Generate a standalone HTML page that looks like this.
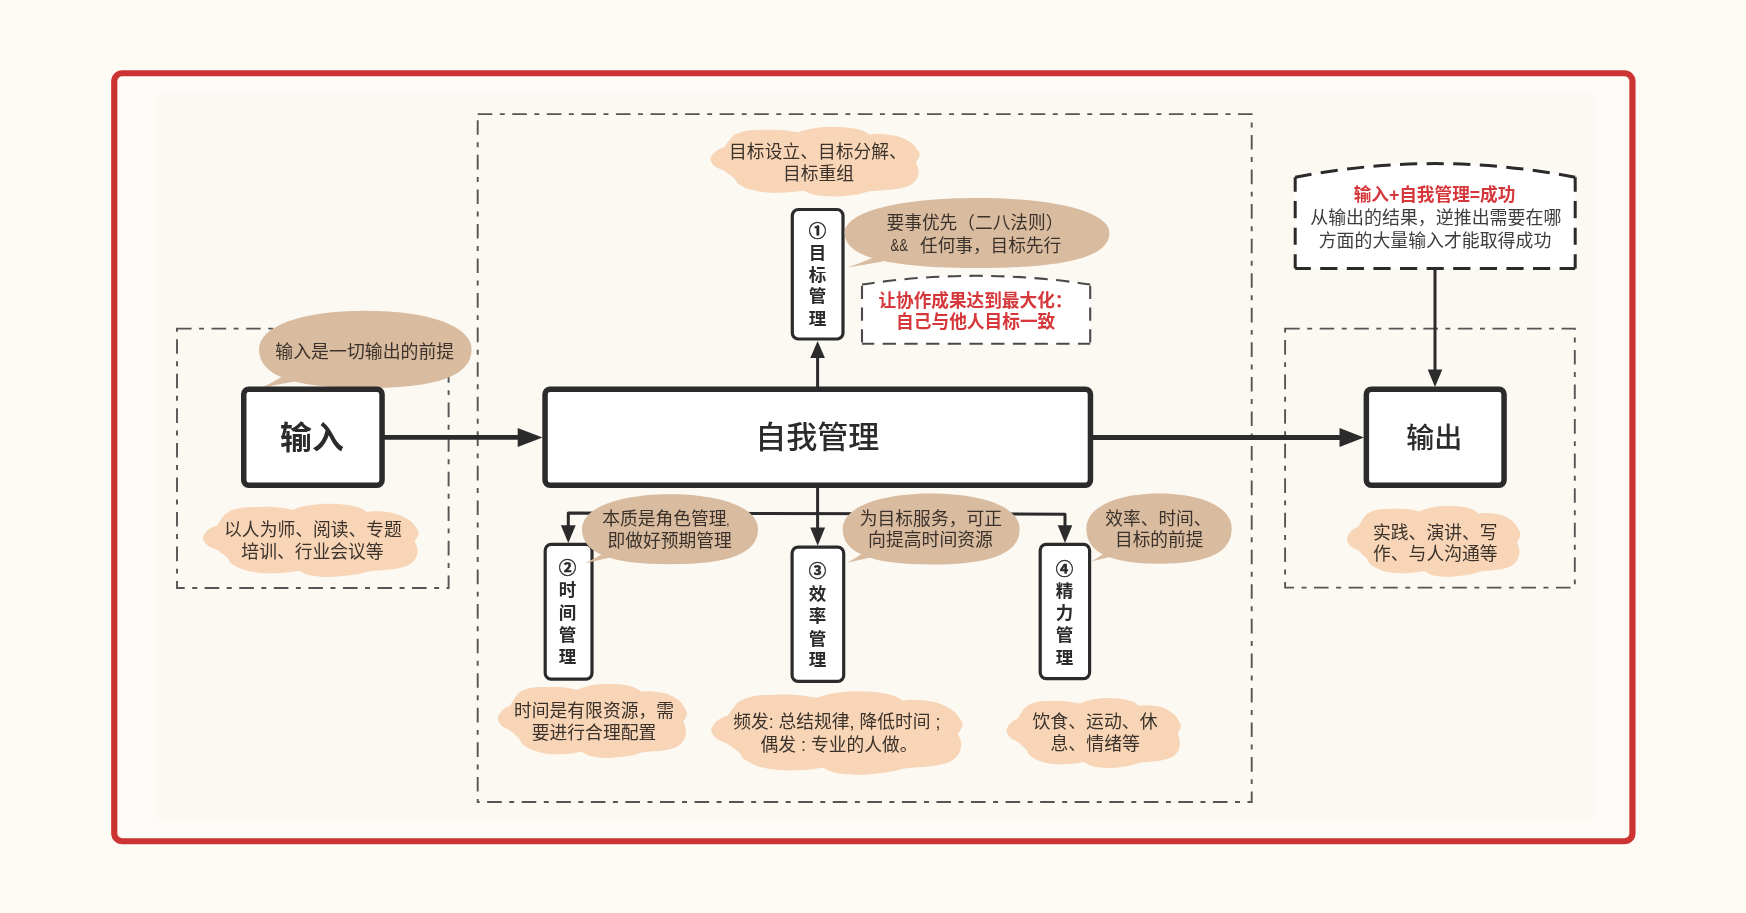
<!DOCTYPE html>
<html lang="zh-CN">
<head>
<meta charset="utf-8">
<title>自我管理</title>
<style>
html,body{margin:0;padding:0;background:#fefbf5;}
body{width:1746px;height:913px;overflow:hidden;}
svg{display:block;font-family:"Liberation Sans", "Noto Sans CJK SC", sans-serif;will-change:transform;filter:blur(0.45px);}
</style>
</head>
<body>
<svg width="1746" height="913" viewBox="0 0 1746 913">
<rect x="0" y="0" width="1746" height="913" fill="#fefbf5"/>
<rect x="120" y="79" width="1507" height="757" fill="#fefcf9"/>
<defs><filter id="soft" x="-2%" y="-2%" width="104%" height="104%"><feGaussianBlur stdDeviation="2.5"/></filter></defs>
<rect x="154" y="93" width="1441" height="728" fill="#fcf9f3" filter="url(#soft)"/>
<rect x="114.25" y="73.25" width="1518.2" height="768" rx="8" ry="8" fill="none" stroke="#cc3333" stroke-width="6.2"/>
<rect x="477.7" y="114.1" width="774" height="687.9" fill="none" stroke="#555" stroke-width="1.9" stroke-dasharray="14.6 7.5 4.96 7.5"/>
<rect x="177" y="328.6" width="271.6" height="259.4" fill="none" stroke="#555" stroke-width="1.9" stroke-dasharray="14.6 7.5 4.96 7.5"/>
<rect x="1285.1" y="328.6" width="289.7" height="259" fill="none" stroke="#555" stroke-width="1.9" stroke-dasharray="14.6 7.5 4.96 7.5"/>
<path d="M724.3,147.2 C725.2,145.9 728.0,141.6 729.8,139.5 C731.6,137.4 732.4,136.1 735.2,134.6 C738.0,133.2 741.9,131.6 746.5,130.8 C751.1,130.0 757.0,129.9 762.9,129.8 C768.7,129.7 775.9,129.6 781.7,130.1 C787.6,130.5 795.3,132.0 798.1,132.4 C799.6,131.9 803.1,130.4 807.5,129.5 C811.9,128.6 818.5,127.4 824.7,127.0 C830.9,126.6 838.4,126.7 844.6,127.3 C850.8,127.8 857.6,129.1 861.8,130.3 C865.9,131.6 868.2,133.9 869.5,134.6 C871.4,134.5 875.9,133.7 880.6,133.9 C885.3,134.2 892.5,134.8 897.6,136.2 C902.7,137.7 907.8,140.4 911.2,142.8 C914.6,145.2 916.5,148.5 917.9,150.6 C919.3,152.8 919.9,153.7 919.6,155.7 C919.2,157.7 916.4,161.3 915.8,162.4 C916.3,163.7 918.4,167.4 918.5,170.1 C918.7,172.8 918.4,175.9 916.9,178.4 C915.4,181.0 913.2,183.6 909.5,185.4 C905.9,187.2 901.1,188.2 894.9,189.2 C888.6,190.2 877.9,190.3 871.8,191.1 C865.7,192.0 864.4,193.3 858.2,194.2 C852.0,195.1 841.9,196.4 834.5,196.5 C827.2,196.6 819.4,195.8 814.2,194.8 C809.0,193.8 805.3,191.3 803.5,190.6 C800.8,190.9 793.1,192.3 787.0,192.6 C780.8,192.9 772.8,193.1 766.6,192.6 C760.5,192.1 755.0,191.0 750.3,189.6 C745.6,188.1 741.1,185.8 738.4,183.9 C735.6,181.9 736.4,180.3 734.0,178.1 C731.6,175.8 725.6,171.7 723.9,170.4 C722.4,169.7 716.9,168.1 714.7,166.3 C712.5,164.5 710.8,161.7 710.5,159.7 C710.2,157.6 711.8,155.7 713.0,154.1 C714.2,152.5 715.9,151.1 717.8,149.9 C719.7,148.8 723.2,147.6 724.3,147.2 Z" fill="#f7d5b6"/>
<path d="M217.3,525.2 C218.2,523.8 221.0,519.3 222.9,517.1 C224.7,515.0 225.6,513.6 228.5,512.0 C231.4,510.5 235.4,508.9 240.2,508.0 C244.9,507.2 251.0,507.1 257.0,506.9 C263.0,506.8 270.4,506.7 276.4,507.2 C282.5,507.7 290.5,509.3 293.3,509.7 C294.9,509.2 298.4,507.6 303.0,506.6 C307.6,505.7 314.3,504.4 320.7,504.0 C327.1,503.6 334.9,503.7 341.2,504.3 C347.6,504.9 354.7,506.2 359.0,507.5 C363.2,508.8 365.6,511.3 366.9,512.0 C368.9,511.9 373.6,511.0 378.4,511.3 C383.2,511.6 390.6,512.2 395.9,513.7 C401.1,515.3 406.4,518.1 409.9,520.6 C413.4,523.1 415.4,526.6 416.8,528.8 C418.3,531.1 418.9,532.1 418.6,534.1 C418.2,536.2 415.3,540.0 414.7,541.2 C415.1,542.6 417.3,546.5 417.5,549.3 C417.7,552.1 417.3,555.3 415.8,558.0 C414.2,560.7 412.0,563.4 408.2,565.3 C404.4,567.2 399.6,568.3 393.1,569.3 C386.6,570.3 375.6,570.5 369.3,571.4 C363.0,572.3 361.7,573.7 355.3,574.6 C348.9,575.5 338.4,576.9 330.9,577.0 C323.3,577.1 315.2,576.3 309.9,575.2 C304.6,574.2 300.7,571.5 298.9,570.8 C296.1,571.1 288.2,572.6 281.8,572.9 C275.5,573.3 267.2,573.4 260.9,572.9 C254.6,572.4 248.9,571.2 244.0,569.7 C239.2,568.2 234.5,565.7 231.7,563.7 C228.9,561.7 229.7,560.0 227.2,557.7 C224.7,555.3 218.6,551.0 216.8,549.6 C215.2,548.9 209.6,547.1 207.3,545.2 C205.0,543.4 203.3,540.4 203.0,538.3 C202.7,536.2 204.3,534.2 205.6,532.5 C206.9,530.8 208.6,529.3 210.6,528.1 C212.5,526.9 216.1,525.7 217.3,525.2 Z" fill="#f7d5b6"/>
<path d="M510.3,705.5 C511.1,704.1 513.6,699.5 515.2,697.3 C516.9,695.1 517.6,693.7 520.2,692.1 C522.7,690.6 526.2,688.9 530.4,688.1 C534.6,687.2 539.9,687.1 545.2,687.0 C550.5,686.8 556.9,686.8 562.2,687.3 C567.5,687.7 574.5,689.4 577.0,689.8 C578.4,689.3 581.5,687.6 585.5,686.7 C589.5,685.7 595.5,684.4 601.1,684.0 C606.7,683.6 613.5,683.7 619.1,684.3 C624.7,684.9 630.9,686.2 634.6,687.6 C638.4,688.9 640.5,691.4 641.6,692.1 C643.3,692.0 647.4,691.1 651.7,691.4 C655.9,691.7 662.4,692.3 667.0,693.8 C671.6,695.4 676.3,698.2 679.3,700.8 C682.4,703.4 684.1,706.9 685.4,709.2 C686.7,711.5 687.2,712.5 686.9,714.6 C686.6,716.7 684.1,720.5 683.5,721.7 C683.9,723.1 685.8,727.0 686.0,729.9 C686.1,732.7 685.8,736.0 684.5,738.8 C683.1,741.5 681.1,744.2 677.8,746.2 C674.5,748.1 670.2,749.2 664.6,750.2 C658.9,751.3 649.2,751.4 643.7,752.3 C638.2,753.2 637.0,754.6 631.4,755.6 C625.8,756.5 616.6,757.9 610.0,758.0 C603.4,758.1 596.3,757.3 591.6,756.2 C586.9,755.2 583.5,752.5 581.9,751.7 C579.4,752.1 572.5,753.5 567.0,753.9 C561.4,754.2 554.1,754.4 548.6,753.9 C543.1,753.3 538.1,752.2 533.8,750.6 C529.5,749.0 525.5,746.6 523.0,744.5 C520.5,742.5 521.2,740.8 519.0,738.4 C516.8,736.0 511.4,731.6 509.9,730.2 C508.5,729.5 503.6,727.7 501.6,725.8 C499.6,723.9 498.1,720.9 497.8,718.8 C497.5,716.6 499.0,714.6 500.1,712.9 C501.2,711.1 502.7,709.7 504.4,708.4 C506.1,707.2 509.3,706.0 510.3,705.5 Z" fill="#f7d5b6"/>
<path d="M727.8,715.6 C728.9,714.1 732.2,708.9 734.4,706.4 C736.5,703.9 737.6,702.3 740.9,700.6 C744.3,698.8 749.0,697.0 754.5,696.0 C760.0,695.0 767.1,694.9 774.2,694.7 C781.2,694.6 789.8,694.5 796.8,695.1 C803.9,695.6 813.2,697.4 816.5,697.9 C818.3,697.3 822.5,695.5 827.8,694.4 C833.1,693.3 841.0,691.8 848.4,691.4 C855.9,691.0 864.9,691.1 872.4,691.7 C879.8,692.4 888.0,693.9 893.0,695.4 C898.0,696.9 900.8,699.7 902.3,700.6 C904.5,700.4 910.0,699.4 915.7,699.7 C921.3,700.1 929.9,700.7 936.1,702.5 C942.2,704.3 948.4,707.5 952.4,710.3 C956.5,713.2 958.8,717.2 960.5,719.8 C962.2,722.3 962.9,723.5 962.5,725.8 C962.1,728.2 958.7,732.6 958.0,733.9 C958.5,735.5 961.0,739.9 961.2,743.1 C961.4,746.3 961.0,750.1 959.2,753.1 C957.4,756.2 954.8,759.3 950.4,761.5 C946.0,763.6 940.3,764.9 932.8,766.0 C925.2,767.2 912.4,767.4 905.1,768.4 C897.7,769.4 896.2,771.0 888.7,772.0 C881.2,773.1 869.1,774.7 860.3,774.8 C851.5,774.9 842.1,774.0 835.8,772.8 C829.6,771.6 825.1,768.6 823.0,767.7 C819.7,768.1 810.5,769.7 803.1,770.1 C795.7,770.5 786.0,770.7 778.7,770.1 C771.3,769.5 764.7,768.2 759.0,766.5 C753.4,764.7 748.0,761.9 744.7,759.6 C741.4,757.3 742.3,755.4 739.4,752.7 C736.5,750.0 729.3,745.1 727.3,743.5 C725.5,742.7 718.9,740.7 716.2,738.5 C713.6,736.4 711.5,733.0 711.2,730.6 C710.9,728.2 712.8,725.9 714.2,723.9 C715.7,722.0 717.7,720.3 720.0,718.9 C722.3,717.5 726.5,716.1 727.8,715.6 Z" fill="#f7d5b6"/>
<path d="M1018.0,718.4 C1018.8,717.2 1021.0,712.9 1022.6,710.8 C1024.1,708.7 1024.8,707.3 1027.1,705.9 C1029.4,704.4 1032.7,702.9 1036.5,702.0 C1040.4,701.2 1045.3,701.1 1050.2,701.0 C1055.0,700.9 1061.0,700.8 1065.9,701.3 C1070.8,701.7 1077.2,703.2 1079.5,703.6 C1080.8,703.2 1083.6,701.6 1087.3,700.7 C1091.0,699.8 1096.5,698.6 1101.7,698.2 C1106.8,697.8 1113.1,697.9 1118.2,698.5 C1123.4,699.0 1129.1,700.3 1132.6,701.6 C1136.0,702.8 1137.9,705.2 1139.0,705.9 C1140.6,705.8 1144.4,704.9 1148.3,705.2 C1152.2,705.4 1158.2,706.0 1162.4,707.5 C1166.7,709.0 1170.9,711.6 1173.8,714.0 C1176.6,716.5 1178.2,719.8 1179.4,721.9 C1180.5,724.1 1181.0,725.0 1180.8,727.0 C1180.5,729.0 1178.1,732.7 1177.6,733.8 C1178.0,735.1 1179.7,738.8 1179.9,741.5 C1180.0,744.2 1179.7,747.3 1178.5,749.9 C1177.2,752.4 1175.4,755.0 1172.4,756.8 C1169.3,758.6 1165.4,759.7 1160.1,760.7 C1154.9,761.6 1146.0,761.8 1140.9,762.6 C1135.8,763.5 1134.8,764.8 1129.6,765.7 C1124.4,766.6 1116.0,767.9 1109.9,768.0 C1103.8,768.1 1097.2,767.3 1092.9,766.3 C1088.6,765.3 1085.5,762.8 1084.0,762.1 C1081.7,762.4 1075.4,763.8 1070.2,764.1 C1065.1,764.4 1058.4,764.6 1053.3,764.1 C1048.2,763.6 1043.6,762.5 1039.7,761.0 C1035.7,759.6 1032.0,757.2 1029.7,755.3 C1027.5,753.4 1028.1,751.7 1026.1,749.5 C1024.0,747.3 1019.1,743.1 1017.7,741.8 C1016.4,741.1 1011.9,739.4 1010.0,737.6 C1008.1,735.8 1006.7,733.0 1006.5,731.0 C1006.3,729.0 1007.6,727.1 1008.6,725.4 C1009.6,723.8 1011.0,722.4 1012.6,721.2 C1014.2,720.1 1017.1,718.9 1018.0,718.4 Z" fill="#f7d5b6"/>
<path d="M1358.5,526.5 C1359.2,525.2 1361.5,520.8 1363.0,518.7 C1364.5,516.5 1365.2,515.2 1367.5,513.7 C1369.8,512.2 1373.0,510.6 1376.9,509.8 C1380.7,509.0 1385.5,508.9 1390.4,508.7 C1395.3,508.6 1401.2,508.6 1406.0,509.0 C1410.9,509.5 1417.3,511.0 1419.6,511.4 C1420.9,510.9 1423.7,509.4 1427.4,508.5 C1431.1,507.5 1436.5,506.3 1441.6,505.9 C1446.7,505.5 1453.0,505.6 1458.1,506.2 C1463.2,506.8 1468.9,508.1 1472.3,509.3 C1475.8,510.6 1477.7,513.0 1478.8,513.7 C1480.3,513.6 1484.1,512.7 1488.0,513.0 C1491.8,513.3 1497.8,513.8 1502.0,515.3 C1506.2,516.8 1510.5,519.6 1513.3,522.0 C1516.1,524.5 1517.7,527.8 1518.9,530.0 C1520.0,532.2 1520.5,533.2 1520.3,535.2 C1520.0,537.2 1517.6,541.0 1517.1,542.1 C1517.5,543.4 1519.2,547.2 1519.4,549.9 C1519.5,552.6 1519.2,555.8 1518.0,558.4 C1516.8,561.0 1515.0,563.7 1511.9,565.5 C1508.9,567.4 1505.0,568.5 1499.8,569.4 C1494.6,570.4 1485.7,570.6 1480.7,571.4 C1475.6,572.3 1474.5,573.6 1469.4,574.6 C1464.2,575.5 1455.8,576.8 1449.8,576.9 C1443.7,577.0 1437.2,576.2 1432.9,575.2 C1428.6,574.2 1425.6,571.6 1424.1,570.9 C1421.8,571.2 1415.5,572.6 1410.4,572.9 C1405.3,573.3 1398.6,573.4 1393.5,572.9 C1388.5,572.4 1383.9,571.3 1380.0,569.8 C1376.1,568.3 1372.3,565.9 1370.1,564.0 C1367.8,562.0 1368.4,560.4 1366.4,558.1 C1364.4,555.8 1359.5,551.6 1358.1,550.3 C1356.8,549.6 1352.3,547.8 1350.5,546.0 C1348.6,544.2 1347.2,541.3 1347.0,539.3 C1346.8,537.2 1348.1,535.2 1349.1,533.6 C1350.1,531.9 1351.5,530.5 1353.1,529.3 C1354.6,528.1 1357.6,527.0 1358.5,526.5 Z" fill="#f7d5b6"/>
<line x1="384" y1="437.4" x2="520" y2="437.4" stroke="#2b2b2b" fill="none" stroke-width="4.8"/>
<path d="M517.7,428 L542.5,437.4 L517.7,446.9 Z" fill="#2b2b2b"/>
<line x1="1093" y1="437.5" x2="1342" y2="437.5" stroke="#2b2b2b" fill="none" stroke-width="4.8"/>
<path d="M1339.5,428 L1364,437.5 L1339.5,447 Z" fill="#2b2b2b"/>
<line x1="817.6" y1="387" x2="817.6" y2="355" stroke="#2b2b2b" fill="none" stroke-width="3"/>
<path d="M810.3,358 L817.6,341 L824.9,358 Z" fill="#2b2b2b"/>
<line x1="817.6" y1="487" x2="817.6" y2="532" stroke="#2b2b2b" fill="none" stroke-width="3"/>
<path d="M810.3,527.4 L817.7,545.8 L825.1,527.4 Z" fill="#2b2b2b"/>
<path d="M568.3,530 L568.3,513 L1065,514.2 L1065,530" stroke="#2b2b2b" fill="none" stroke-width="3" stroke-linejoin="round"/>
<path d="M560.9,525.2 L568.3,543 L575.7,525.2 Z" fill="#2b2b2b"/>
<path d="M1057.7,525.2 L1065,543 L1072.3,525.2 Z" fill="#2b2b2b"/>
<line x1="1435" y1="268" x2="1435" y2="372" stroke="#2b2b2b" fill="none" stroke-width="3"/>
<path d="M1427.7,369.5 L1435,387 L1442.3,369.5 Z" fill="#2b2b2b"/>
<rect x="792.3000000000001" y="209.5" width="50.699999999999974" height="129.50000000000003" rx="6" ry="6" fill="#ffffff" stroke="#2b2b2b" stroke-width="3.2"/>
<rect x="545.2" y="544.3000000000001" width="46.8" height="134.89999999999992" rx="6" ry="6" fill="#ffffff" stroke="#2b2b2b" stroke-width="3.2"/>
<rect x="792.1" y="547.2" width="51.59999999999995" height="134.2" rx="6" ry="6" fill="#ffffff" stroke="#2b2b2b" stroke-width="3.2"/>
<rect x="1040.1999999999998" y="544.3000000000001" width="49.400000000000134" height="134.3" rx="6" ry="6" fill="#ffffff" stroke="#2b2b2b" stroke-width="3.2"/>
<path d="M259.0,349.4 C259.0,326.24 301.52,310.79999999999995 365.3,310.79999999999995 C429.08,310.79999999999995 471.6,326.24 471.6,349.4 C471.6,375.65 437.58,388.0 365.3,388.0 C293.02,388.0 259.0,375.65 259.0,349.4 Z" fill="#d9bb9f"/>
<path d="M284,375.5 Q272,383 260.8,388.2 Q277,384.5 295,381.5 Z" fill="#d9bb9f"/>
<path d="M844.6,233 C844.6,212.00 897.56,198 977,198 C1056.44,198 1109.4,212.00 1109.4,233 C1109.4,256.80 1067.03,268 977,268 C886.97,268 844.6,256.80 844.6,233 Z" fill="#d9bb9f"/>
<path d="M876,256.5 Q861,263 847.3,267.6 Q864,265 883,261.6 Z" fill="#d9bb9f"/>
<path d="M582,529.2 C582,508.20 617.20,494.20000000000005 670,494.20000000000005 C722.80,494.20000000000005 758,508.20 758,529.2 C758,553.00 729.84,564.2 670,564.2 C610.16,564.2 582,553.00 582,529.2 Z" fill="#d9bb9f"/>
<path d="M605,552.5 Q595,558.5 584.9,563.2 Q598,560.4 612,557 Z" fill="#d9bb9f"/>
<path d="M842.7,529 C842.7,507.70 878.10,493.5 931.2,493.5 C984.30,493.5 1019.7,507.70 1019.7,529 C1019.7,553.14 991.38,564.5 931.2,564.5 C871.02,564.5 842.7,553.14 842.7,529 Z" fill="#d9bb9f"/>
<path d="M865,552 Q856,557.8 847.3,562.7 Q860,559.8 875,556.5 Z" fill="#d9bb9f"/>
<path d="M1086.3,528.6 C1086.3,507.48 1115.38,493.40000000000003 1159,493.40000000000003 C1202.62,493.40000000000003 1231.7,507.48 1231.7,528.6 C1231.7,552.54 1208.44,563.8000000000001 1159,563.8000000000001 C1109.56,563.8000000000001 1086.3,552.54 1086.3,528.6 Z" fill="#d9bb9f"/>
<path d="M1107,551.5 Q1099,557 1091.3,561.6 Q1102,558.8 1115,555.8 Z" fill="#d9bb9f"/>
<rect x="243.75" y="389.25" width="138.3" height="96.0" rx="5" ry="5" fill="#ffffff" stroke="#2b2b2b" stroke-width="5.5"/>
<rect x="545.05" y="389.15" width="545.4000000000001" height="96.10000000000002" rx="5" ry="5" fill="#ffffff" stroke="#2b2b2b" stroke-width="5.5"/>
<rect x="1366.35" y="389.35" width="137.70000000000005" height="95.89999999999998" rx="5" ry="5" fill="#ffffff" stroke="#2b2b2b" stroke-width="5.5"/>
<path d="M862,284.5 Q976.1,267.1 1090.2,284.5 L1090.2,343.8 L862,343.8 Z" fill="#ffffff"/>
<path d="M862,284.5 Q976.1,267.1 1090.2,284.5" fill="none" stroke="#4a4a4a" stroke-width="2.1" stroke-dasharray="13.3 8.4" stroke-dashoffset="0.61"/>
<path d="M1090.2,284.5 L1090.2,343.8" fill="none" stroke="#4a4a4a" stroke-width="2.1" stroke-dasharray="13.3 8.4" stroke-dashoffset="-1.30"/>
<path d="M1090.2,343.8 L862,343.8" fill="none" stroke="#4a4a4a" stroke-width="2.1" stroke-dasharray="13.3 8.4" stroke-dashoffset="1.05"/>
<path d="M862,343.8 L862,284.5" fill="none" stroke="#4a4a4a" stroke-width="2.1" stroke-dasharray="13.3 8.4" stroke-dashoffset="-1.30"/>
<path d="M1295.2,177.3 Q1435.2,149.89999999999998 1575.2,177.3 L1575.2,268.6 L1295.2,268.6 Z" fill="#ffffff"/>
<path d="M1295.2,177.3 Q1435.2,149.89999999999998 1575.2,177.3" fill="none" stroke="#2a2a2a" stroke-width="3" stroke-dasharray="17.2 9.4" stroke-dashoffset="0.71"/>
<path d="M1575.2,177.3 L1575.2,268.6" fill="none" stroke="#2a2a2a" stroke-width="3" stroke-dasharray="17.2 9.4" stroke-dashoffset="2.85"/>
<path d="M1575.2,268.6 L1295.2,268.6" fill="none" stroke="#2a2a2a" stroke-width="3" stroke-dasharray="17.2 9.4" stroke-dashoffset="1.60"/>
<path d="M1295.2,268.6 L1295.2,177.3" fill="none" stroke="#2a2a2a" stroke-width="3" stroke-dasharray="17.2 9.4" stroke-dashoffset="2.85"/>
<text x="311.9" y="448.6" font-size="31.8" fill="#2b2b2b" font-weight="700" text-anchor="middle" >输入</text>
<text x="817.2" y="447.6" font-size="31" fill="#2b2b2b" font-weight="500" text-anchor="middle" >自我管理</text>
<text x="1434.2" y="448.3" font-size="28" fill="#2b2b2b" font-weight="500" text-anchor="middle" >输出</text>
<text x="364.8" y="358.0" font-size="17.9" fill="#3b322b" font-weight="400" text-anchor="middle" >输入是一切输出的前提</text>
<text x="818" y="157.6" font-size="17.8" fill="#3b322b" font-weight="400" text-anchor="middle" >目标设立、目标分解、</text>
<text x="818.5" y="179.7" font-size="17.8" fill="#3b322b" font-weight="400" text-anchor="middle" >目标重组</text>
<text x="975" y="229.0" font-size="17.7" fill="#3b322b" font-weight="400" text-anchor="middle" >要事优先（二八法则）</text>
<text x="890.6" y="251.4" font-size="17" fill="#3b322b" textLength="17.4" lengthAdjust="spacingAndGlyphs">&amp;&amp;</text>
<text x="920" y="251.9" font-size="17.65" fill="#3b322b" font-weight="400" text-anchor="start" >任何事，目标先行</text>
<text x="975.4" y="306.8" font-size="17.65" fill="#d6373a" font-weight="700" text-anchor="middle" >让协作成果达到最大化：</text>
<text x="975.7" y="327.8" font-size="17.7" fill="#d6373a" font-weight="700" text-anchor="middle" >自己与他人目标一致</text>
<text x="313" y="535.8" font-size="17.8" fill="#3b322b" font-weight="400" text-anchor="middle" >以人为师、阅读、专题</text>
<text x="312.5" y="557.8" font-size="17.8" fill="#3b322b" font-weight="400" text-anchor="middle" >培训、行业会议等</text>
<text x="602.2" y="524.6" font-size="17.75" fill="#3b322b" font-weight="400" text-anchor="start" >本质是角色管理<tspan font-size="13" dx="-0.5">,</tspan></text>
<text x="669.6" y="546.8" font-size="17.75" fill="#3b322b" font-weight="400" text-anchor="middle" >即做好预期管理</text>
<text x="930.9" y="525.0" font-size="17.8" fill="#3b322b" font-weight="400" text-anchor="middle" >为目标服务，可正</text>
<text x="930.5" y="545.9" font-size="17.85" fill="#3b322b" font-weight="400" text-anchor="middle" >向提高时间资源</text>
<text x="1158.4" y="525.0" font-size="17.7" fill="#3b322b" font-weight="400" text-anchor="middle" >效率、时间、</text>
<text x="1159.2" y="546.1" font-size="17.7" fill="#3b322b" font-weight="400" text-anchor="middle" >目标的前提</text>
<text x="594" y="716.8" font-size="17.8" fill="#3b322b" font-weight="400" text-anchor="middle" >时间是有限资源，需</text>
<text x="594" y="739.2" font-size="17.8" fill="#3b322b" font-weight="400" text-anchor="middle" >要进行合理配置</text>
<text x="836.8" y="728.3" font-size="17.75" fill="#3b322b" font-weight="400" text-anchor="middle" >频发: 总结规律, 降低时间 ;</text>
<text x="839" y="750.9" font-size="17.75" fill="#3b322b" font-weight="400" text-anchor="middle" >偶发 : 专业的人做。</text>
<text x="1095" y="728.3" font-size="17.9" fill="#3b322b" font-weight="400" text-anchor="middle" >饮食、运动、休</text>
<text x="1095.2" y="750.0" font-size="17.9" fill="#3b322b" font-weight="400" text-anchor="middle" >息、情绪等</text>
<text x="1435.3" y="538.8" font-size="17.8" fill="#3b322b" font-weight="400" text-anchor="middle" >实践、演讲、写</text>
<text x="1435.3" y="560.2" font-size="17.8" fill="#3b322b" font-weight="400" text-anchor="middle" >作、与人沟通等</text>
<text x="1434.5" y="201.2" font-size="17.65" fill="#d6373a" font-weight="700" text-anchor="middle" >输入+自我管理=成功</text>
<text x="1435.8" y="224.4" font-size="17.95" fill="#3d3d3d" font-weight="400" text-anchor="middle" >从输出的结果，逆推出需要在哪</text>
<text x="1435" y="246.6" font-size="17.9" fill="#3d3d3d" font-weight="400" text-anchor="middle" >方面的大量输入才能取得成功</text>
<text x="817.5" y="237.1" font-size="17.5" fill="#2b2b2b" font-weight="700" text-anchor="middle" stroke="#2b2b2b" stroke-width="0.45">①</text>
<text x="817.5" y="258.9" font-size="17.5" fill="#2b2b2b" font-weight="700" text-anchor="middle" >目</text>
<text x="817.5" y="280.6" font-size="17.5" fill="#2b2b2b" font-weight="700" text-anchor="middle" >标</text>
<text x="817.5" y="302.4" font-size="17.5" fill="#2b2b2b" font-weight="700" text-anchor="middle" >管</text>
<text x="817.5" y="324.6" font-size="17.5" fill="#2b2b2b" font-weight="700" text-anchor="middle" >理</text>
<text x="567.5" y="574.1" font-size="17.5" fill="#2b2b2b" font-weight="700" text-anchor="middle" stroke="#2b2b2b" stroke-width="0.45">②</text>
<text x="567.5" y="596.3" font-size="17.5" fill="#2b2b2b" font-weight="700" text-anchor="middle" >时</text>
<text x="567.5" y="618.7" font-size="17.5" fill="#2b2b2b" font-weight="700" text-anchor="middle" >间</text>
<text x="567.5" y="640.5" font-size="17.5" fill="#2b2b2b" font-weight="700" text-anchor="middle" >管</text>
<text x="567.5" y="663.2" font-size="17.5" fill="#2b2b2b" font-weight="700" text-anchor="middle" >理</text>
<text x="817.4" y="577.1" font-size="17.5" fill="#2b2b2b" font-weight="700" text-anchor="middle" stroke="#2b2b2b" stroke-width="0.45">③</text>
<text x="817.4" y="599.8" font-size="17.5" fill="#2b2b2b" font-weight="700" text-anchor="middle" >效</text>
<text x="817.4" y="621.7" font-size="17.5" fill="#2b2b2b" font-weight="700" text-anchor="middle" >率</text>
<text x="817.4" y="644.5" font-size="17.5" fill="#2b2b2b" font-weight="700" text-anchor="middle" >管</text>
<text x="817.4" y="666.3" font-size="17.5" fill="#2b2b2b" font-weight="700" text-anchor="middle" >理</text>
<text x="1064.6" y="574.5" font-size="17.5" fill="#2b2b2b" font-weight="700" text-anchor="middle" stroke="#2b2b2b" stroke-width="0.45">④</text>
<text x="1064.6" y="596.8" font-size="17.5" fill="#2b2b2b" font-weight="700" text-anchor="middle" >精</text>
<text x="1064.6" y="619.3" font-size="17.5" fill="#2b2b2b" font-weight="700" text-anchor="middle" >力</text>
<text x="1064.6" y="641.1" font-size="17.5" fill="#2b2b2b" font-weight="700" text-anchor="middle" >管</text>
<text x="1064.6" y="663.5" font-size="17.5" fill="#2b2b2b" font-weight="700" text-anchor="middle" >理</text>
</svg>
</body>
</html>
